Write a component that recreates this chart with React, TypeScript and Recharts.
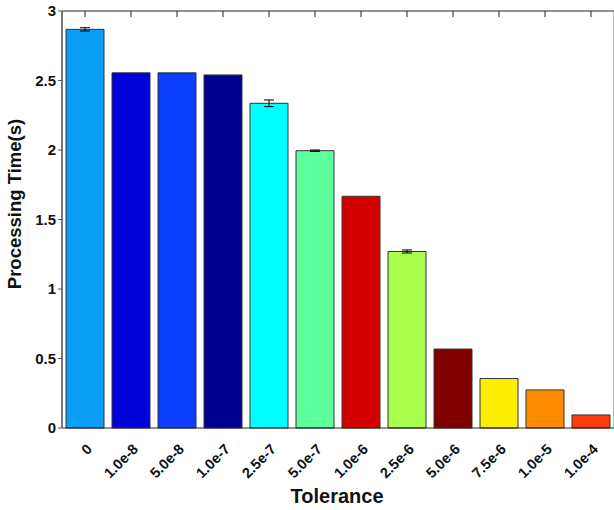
import React from 'react';
import { BarChart, Bar, XAxis, YAxis, Cell, ErrorBar } from 'recharts';

const categories = ['0', '1.0e-8', '5.0e-8', '1.0e-7', '2.5e-7', '5.0e-7', '1.0e-6', '2.5e-6', '5.0e-6', '7.5e-6', '1.0e-5', '1.0e-4'];
const times = [2.868, 2.555, 2.555, 2.54, 2.336, 1.995, 1.667, 1.27, 0.568, 0.356, 0.274, 0.094];
const errors = [0.012, 0, 0, 0, 0.024, 0.005, 0, 0.011, 0, 0, 0, 0];
const colors = ['#0a9ff5', '#0000d8', '#0a3dfc', '#000090', '#00ffff', '#5dff9d', '#d40000', '#aaff4d', '#800000', '#ffee00', '#ff8c00', '#ff3c0c'];
const yTicks = [0, 0.5, 1, 1.5, 2, 2.5, 3];

const data = categories.map((name, i) => ({ name, value: times[i], err: errors[i] }));

const FONT = "Arial, 'Liberation Sans', sans-serif";

const XTick = (props: any) => {
  const { x, y, payload } = props;
  const ax = x + 8;
  const ay = y + 22;
  return (
    <text x={ax} y={ay} transform={`rotate(-45, ${ax}, ${ay})`} textAnchor="end" fontFamily={FONT} fontWeight="bold" fontSize={14.5} fill="#111">
      {payload.value}
    </text>
  );
};

const Empty = () => <g />;

export default function App() {
  return (
    <div style={{ position: 'absolute', left: 0, top: 0, background: '#fff' }}>
      <BarChart width={614} height={510} data={data} margin={{ top: 11, right: 0, left: 0, bottom: 0 }} barSize={38}>
        <XAxis
          dataKey="name"
          height={82}
          tickLine={false}
          tickSize={0}
          tickMargin={0}
          tick={<XTick />}
          interval={0}
          axisLine={{ stroke: '#222', strokeWidth: 1.2 }}
          label={{
            content: () => (
              <text x={337} y={503} textAnchor="middle" fontFamily={FONT} fontWeight="bold" fontSize={20} fill="#111">
                Tolerance
              </text>
            ),
          }}
        />
        <XAxis
          xAxisId="top"
          dataKey="name"
          orientation="top"
          mirror
          tick={<Empty />}
          tickSize={6}
          interval={0}
          tickLine={{ stroke: '#222' }}
          axisLine={{ stroke: '#222', strokeWidth: 1.2 }}
        />
        <YAxis
          width={62}
          domain={[0, 3]}
          ticks={yTicks}
          tickSize={4}
          tickMargin={2}
          interval={0}
          tickFormatter={(v: number) => String(v)}
          tick={{ fontFamily: FONT, fontWeight: 'bold', fontSize: 15, fill: '#111' }}
          tickLine={{ stroke: '#555' }}
          axisLine={{ stroke: '#777', strokeWidth: 2 }}
          label={{
            content: () => (
              <text x={21} y={204} transform="rotate(-90, 21, 204)" textAnchor="middle" fontFamily={FONT} fontWeight="bold" fontSize={18.5} fill="#111">
                Processing Time(s)
              </text>
            ),
          }}
        />
        <YAxis
          yAxisId="right"
          orientation="right"
          mirror
          domain={[0, 3]}
          ticks={yTicks}
          tick={<Empty />}
          tickSize={5}
          interval={0}
          tickLine={{ stroke: '#555' }}
          axisLine={{ stroke: '#777' }}
        />
        <Bar dataKey="value" stroke="#333" strokeWidth={1} isAnimationActive={false}>
          {data.map((d, i) => (
            <Cell key={d.name} fill={colors[i]} />
          ))}
          <ErrorBar dataKey="err" width={5} stroke="#000" strokeWidth={1} />
        </Bar>
      </BarChart>
    </div>
  );
}
